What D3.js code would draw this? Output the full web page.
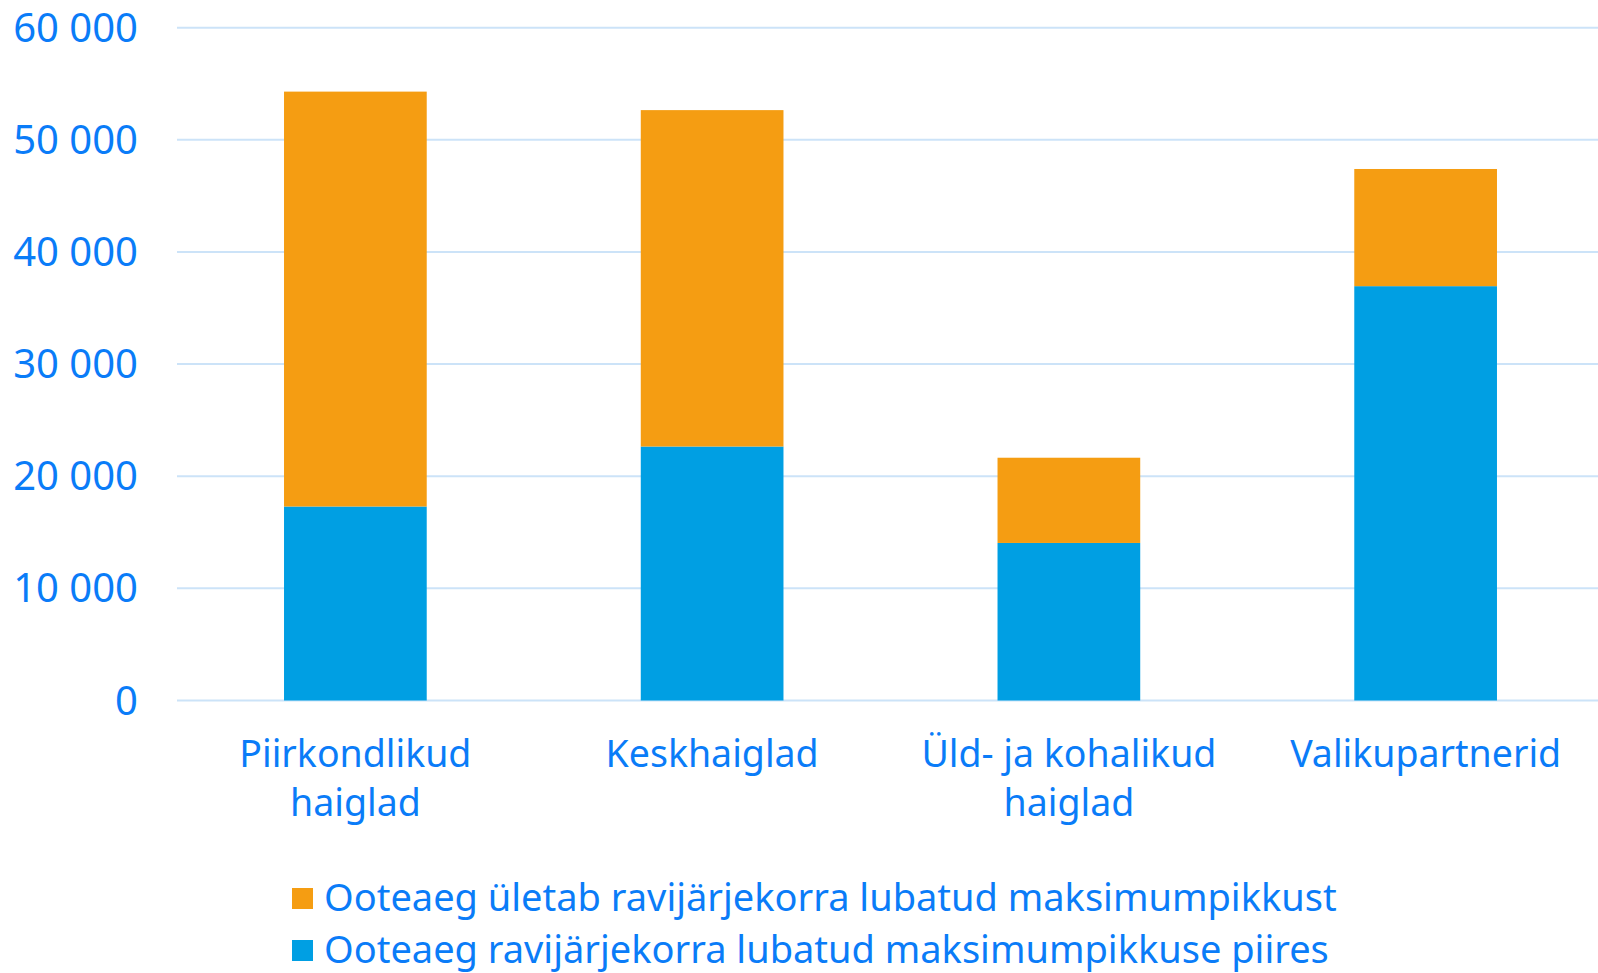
<!DOCTYPE html>
<html>
<head>
<meta charset="utf-8">
<script src="https://cdn.jsdelivr.net/npm/d3@7"></script>
<style>
  body { margin: 0; background: #fff; }
  svg text { font-family: "Noto Sans", sans-serif; fill: #0a7cf8; }
</style>
</head>
<body>
<svg id="chart" width="1598" height="973"></svg>
<script>
const categories = [['Piirkondlikud', 'haiglad'], ['Keskhaiglad'], ['Üld- ja kohalikud', 'haiglad'], ['Valikupartnerid']];
const withinLimit = [17300, 22650, 14050, 36950];
const overLimit = [37000, 30000, 7600, 10450];
const seriesNames = ['Ooteaeg ületab ravijärjekorra lubatud maksimumpikkust', 'Ooteaeg ravijärjekorra lubatud maksimumpikkuse piires'];
const yTicks = [0, 10000, 20000, 30000, 40000, 50000, 60000];

const orange = '#f59d12', blue = '#009fe3';
const plotLeft = 177, plotRight = 1604, plotTop = 27.7, plotBottom = 700.5;

const svg = d3.select('#chart');

const x = d3.scaleBand()
  .domain(d3.range(categories.length))
  .range([plotLeft, plotRight])
  .paddingInner(0.6)
  .paddingOuter(0.3);

const y = d3.scaleLinear().domain([0, 60000]).range([plotBottom, plotTop]);

// gridlines
svg.append('g')
  .selectAll('line')
  .data(yTicks)
  .enter()
  .append('line')
  .attr('x1', plotLeft)
  .attr('x2', 1598)
  .attr('y1', (d) => y(d))
  .attr('y2', (d) => y(d))
  .attr('stroke', '#cce3f8')
  .attr('stroke-width', 2);

// y labels
const fmt = (d) => d3.format(',')(d).replace(/,/g, ' ');
svg.append('g')
  .selectAll('text')
  .data(yTicks)
  .enter()
  .append('text')
  .attr('x', 138)
  .attr('y', (d) => y(d))
  .attr('dy', '0.35em')
  .attr('text-anchor', 'end')
  .style('font-size', '40px')
  .text(fmt);

// stacked bars
const rows = categories.map((c, i) => ({ i, within: withinLimit[i], over: overLimit[i] }));
const stack = d3.stack().keys(['within', 'over'])(rows);
const colors = { within: blue, over: orange };

svg.append('g')
  .selectAll('g')
  .data(stack)
  .enter()
  .append('g')
  .attr('fill', (s) => colors[s.key])
  .selectAll('rect')
  .data((s) => s)
  .enter()
  .append('rect')
  .attr('x', (d) => x(d.data.i))
  .attr('width', x.bandwidth())
  .attr('y', (d) => y(d[1]))
  .attr('height', (d) => y(d[0]) - y(d[1]));

// category labels
const catLabels = svg.append('g')
  .selectAll('text')
  .data(categories)
  .enter()
  .append('text')
  .attr('text-anchor', 'middle')
  .style('font-size', '37.5px')
  .attr('transform', (d, i) => 'translate(' + (x(i) + x.bandwidth() / 2) + ',' + 767 + ')');

catLabels.selectAll('tspan')
  .data((d) => d)
  .enter()
  .append('tspan')
  .attr('x', 0)
  .attr('y', (d, j) => j * 49)
  .text((d) => d);

// legend
const legend = svg.append('g')
  .selectAll('g')
  .data(seriesNames)
  .enter()
  .append('g')
  .attr('transform', (d, i) => 'translate(292,' + (898 + i * 52) + ')');

legend.append('rect')
  .attr('x', 0)
  .attr('y', -10)
  .attr('width', 21)
  .attr('height', 21)
  .attr('fill', (d, i) => (i === 0 ? orange : blue));

legend.append('text')
  .attr('x', 32)
  .attr('y', 0)
  .attr('dy', '0.35em')
  .style('font-size', '38px')
  .text((d) => d);
</script>
</body>
</html>
